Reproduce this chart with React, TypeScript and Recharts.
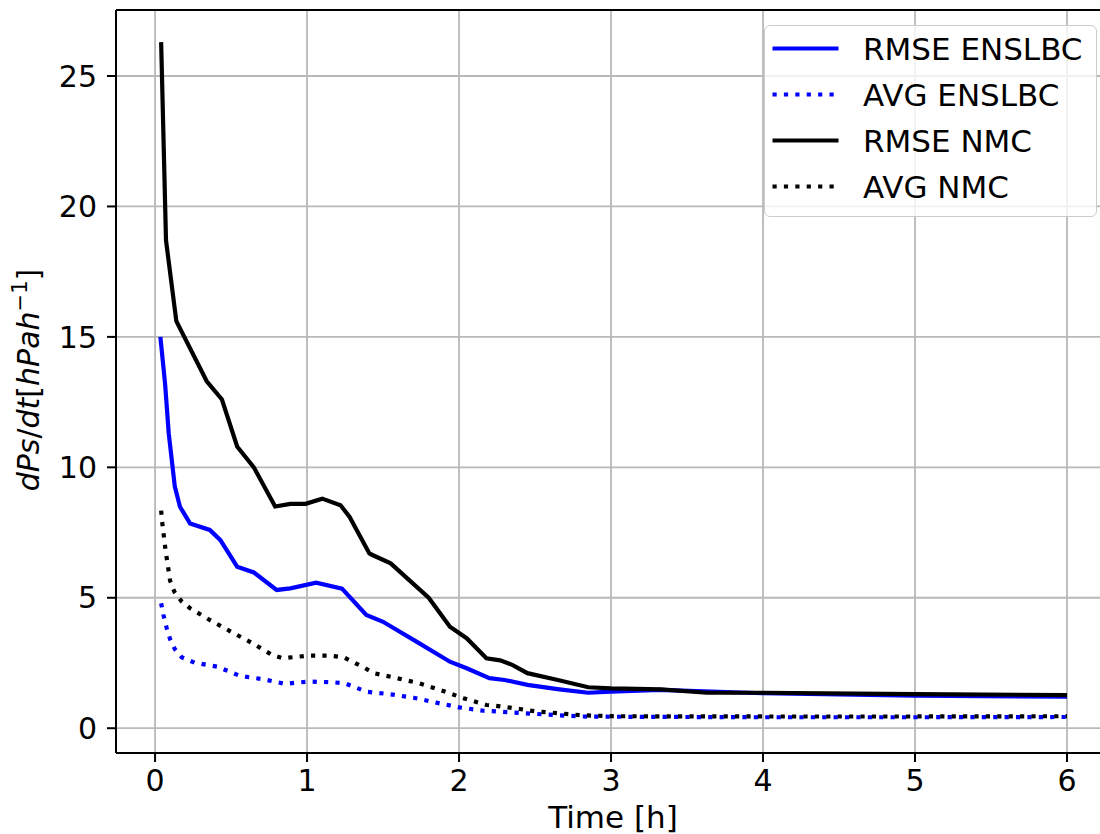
import React from "react";
import { LineChart, Line, XAxis, YAxis, CartesianGrid, Legend } from "recharts";

const xTicks = [0, 1, 2, 3, 4, 5, 6];
const yTicks = [0, 5, 10, 15, 20, 25];

// RMSE ENSLBC (blue solid)
const rmseEnsT = [0.035, 0.066, 0.09, 0.13, 0.164, 0.23, 0.36, 0.43, 0.54, 0.65, 0.8, 0.89, 1.06, 1.23, 1.39, 1.5, 1.72, 1.94, 2.05, 2.2, 2.3, 2.45, 2.66, 2.85, 3.0, 3.32, 4, 5, 6];
const rmseEnsV = [15.0, 13.2, 11.3, 9.26, 8.49, 7.85, 7.6, 7.21, 6.19, 5.97, 5.3, 5.36, 5.58, 5.35, 4.34, 4.08, 3.32, 2.55, 2.3, 1.92, 1.85, 1.66, 1.49, 1.36, 1.4, 1.47, 1.34, 1.25, 1.21];

// AVG ENSLBC (blue dotted)
const avgEnsT = [0.04, 0.055, 0.077, 0.099, 0.13, 0.175, 0.26, 0.41, 0.56, 0.71, 0.855, 1.01, 1.17, 1.25, 1.39, 1.55, 1.7, 1.85, 2.0, 2.16, 2.25, 2.5, 2.8, 3.0, 4, 5, 6];
const avgEnsV = [4.79, 4.34, 3.83, 3.41, 3.03, 2.72, 2.51, 2.36, 2.0, 1.88, 1.7, 1.79, 1.76, 1.72, 1.4, 1.3, 1.17, 0.98, 0.8, 0.67, 0.64, 0.55, 0.45, 0.44, 0.42, 0.42, 0.43];

// RMSE NMC (black solid)
const rmseNmcT = [0.04, 0.072, 0.14, 0.34, 0.44, 0.54, 0.65, 0.79, 0.89, 0.99, 1.1, 1.22, 1.28, 1.41, 1.43, 1.55, 1.8, 1.94, 2.05, 2.18, 2.27, 2.35, 2.45, 2.65, 2.85, 3.0, 3.33, 3.63, 4, 5, 6];
const rmseNmcV = [26.3, 18.7, 15.6, 13.3, 12.6, 10.8, 10.0, 8.5, 8.6, 8.6, 8.8, 8.55, 8.1, 6.7, 6.64, 6.32, 5.0, 3.89, 3.45, 2.68, 2.6, 2.43, 2.11, 1.85, 1.57, 1.53, 1.49, 1.36, 1.36, 1.31, 1.27];

// AVG NMC (black dotted)
const avgNmcT = [0.04, 0.048, 0.066, 0.077, 0.099, 0.127, 0.175, 0.23, 0.36, 0.5, 0.64, 0.77, 0.84, 1.0, 1.15, 1.24, 1.37, 1.44, 1.59, 1.74, 1.89, 2.03, 2.18, 2.27, 2.5, 2.8, 3.0, 4, 5, 6];
const avgNmcV = [8.34, 7.85, 6.96, 6.51, 5.65, 5.23, 4.86, 4.6, 4.15, 3.7, 3.26, 2.81, 2.68, 2.78, 2.78, 2.72, 2.34, 2.11, 1.92, 1.72, 1.44, 1.15, 0.89, 0.84, 0.65, 0.5, 0.46, 0.45, 0.45, 0.46];

const FONT = "'DejaVu Sans', sans-serif";
const LW = 4.2;
const DOT = "4.2 7.2";
const zip = (t: number[], v: number[]) => t.map((x, i) => ({ t: x, v: v[i] }));

const series = [
  { name: "RMSE ENSLBC", data: zip(rmseEnsT, rmseEnsV), color: "#0000ff", dash: undefined },
  { name: "AVG ENSLBC", data: zip(avgEnsT, avgEnsV), color: "#0000ff", dash: DOT },
  { name: "RMSE NMC", data: zip(rmseNmcT, rmseNmcV), color: "#000000", dash: undefined },
  { name: "AVG NMC", data: zip(avgNmcT, avgNmcV), color: "#000000", dash: DOT },
];
const order = series.map((s) => s.name);

const xDomain: [number, number] = [-0.257, 6.296];
const yDomain: [number, number] = [-0.95, 27.53];
const spine = { stroke: "#000", strokeWidth: 2 };
const tickStyle = { fontSize: 30, fill: "#000", fontFamily: FONT };

function LegendBox(props: any) {
  // keep the plotting order, not alphabetical
  const items = [...(props.payload ?? [])].sort(
    (a: any, b: any) => order.indexOf(a.value) - order.indexOf(b.value)
  );
  return (
    <div
      style={{
        width: 333,
        height: 192,
        boxSizing: "border-box",
        border: "1.5px solid #cccccc",
        borderRadius: 6,
        background: "rgba(255,255,255,0.8)",
      }}
    >
      <svg width={330} height={189} style={{ display: "block" }}>
        {items.map((it: any, i: number) => {
          const cy = 22.5 + i * 46;
          return (
            <g key={i}>
              <line x1={7.5} x2={73.5} y1={cy} y2={cy} stroke={it.color}
                strokeWidth={LW} strokeDasharray={it.payload?.strokeDasharray} />
              <text x={98} y={cy + 11} fontSize={31} fontFamily={FONT} fill="#000">{it.value}</text>
            </g>
          );
        })}
      </svg>
    </div>
  );
}

export default function App() {
  return (
    <div style={{ position: "absolute", left: 0, top: 0, width: 1100, height: 834, overflow: "hidden", background: "#fff" }}>
      <LineChart width={1130} height={834} margin={{ top: 9, right: 18, left: 0, bottom: 0 }}>
        <CartesianGrid stroke="#b8b8b8" strokeWidth={1.8} />
        <XAxis
          dataKey="t" type="number" domain={xDomain} ticks={xTicks} allowDataOverflow
          height={81} tickSize={9} tickMargin={8} tick={tickStyle}
          axisLine={spine} tickLine={spine}
          label={{
            content: () => (
              <text x={613} y={828} textAnchor="middle" fontSize={31} fontFamily={FONT} fill="#000">Time [h]</text>
            ),
          }}
        />
        <XAxis xAxisId="top" orientation="top" type="number" domain={xDomain} allowDataOverflow
          height={1} tick={false} tickLine={false} axisLine={spine} />
        <YAxis
          type="number" domain={yDomain} ticks={yTicks} allowDataOverflow
          width={116} tickSize={9} tickMargin={10} tick={tickStyle}
          axisLine={spine} tickLine={spine}
          label={{
            content: () => (
              <text x={39} y={380} transform="rotate(-90, 39, 380)" textAnchor="middle"
                fontSize={30} fontFamily={FONT} fill="#000">
                <tspan fontStyle="italic">dPs</tspan>
                <tspan>/</tspan>
                <tspan fontStyle="italic">dt</tspan>
                <tspan>[</tspan>
                <tspan fontStyle="italic">hPah</tspan>
                <tspan fontSize={21} dy={-12}>−1</tspan>
                <tspan dy={12}>]</tspan>
              </text>
            ),
          }}
        />
        <YAxis yAxisId="right" orientation="right" type="number" domain={yDomain} allowDataOverflow
          width={0} tick={false} tickLine={false} axisLine={spine} />
        <Legend
          layout="vertical" align="center" verticalAlign="middle"
          wrapperStyle={{ left: 764, top: 25, width: 333, height: 192 }}
          content={<LegendBox />}
        />
        {series.map((s) => (
          <Line
            key={s.name} name={s.name} data={s.data} dataKey="v" type="linear"
            stroke={s.color} strokeWidth={LW} strokeDasharray={s.dash}
            dot={false} activeDot={false} isAnimationActive={false}
          />
        ))}
      </LineChart>
    </div>
  );
}
